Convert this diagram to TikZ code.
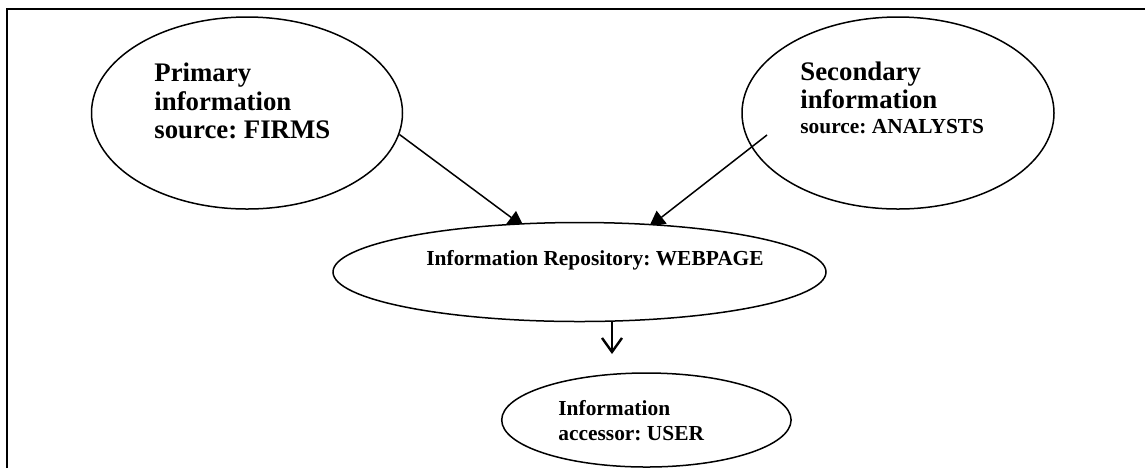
\documentclass[tikz,border=0pt]{standalone}
\usepackage{fontspec}
\setmainfont{Liberation Serif}
\usetikzlibrary{arrows.meta,backgrounds,shapes.geometric}
\frenchspacing
\begin{document}
\begin{tikzpicture}[x=0.5pt, y=-0.5pt, ovalStyle/.style={ellipse, draw, line width=0.75pt, inner sep=0pt}, bigText/.style={anchor=base west, inner sep=0pt, font=\fontsize{13.4}{14}\selectfont\bfseries}, smallText/.style={anchor=base west, inner sep=0pt, font=\fontsize{10.7}{12.5}\selectfont\bfseries}, linkStyle/.style={line width=0.75pt, -{Triangle[length=8pt, width=8pt]}}]
                    \useasboundingbox (0,0) rectangle (1145,468);
                    \draw[line width=1pt] (7,468) -- (7,9) -- (1145,9);
                    % ovals
                    \node[ovalStyle, minimum width=155.5pt, minimum height=96pt] (prim) at (247, 113) {};
                    \node[ovalStyle, minimum width=156pt, minimum height=96pt] (sec) at (898, 113) {};
                    \node[ovalStyle, fill=white, minimum width=246.5pt, minimum height=49.5pt] (repo) at (579.5, 272) {};
                    \node[ovalStyle, minimum width=144.7pt, minimum height=47pt] (user) at (646.4, 420) {};
                    % texts
                    \node[bigText] (primA) at (154,  81) {Primary};
                    \node[bigText] (primB) at (154, 110) {information};
                    \node[bigText] (primC) at (154, 138) {source: FIRMS};
                    \node[bigText] (secA) at (800,  80) {Secondary};
                    \node[bigText] (secB) at (800, 108) {information};
                    \node[smallText] (secC) at (800, 133) {source: ANALYSTS};
                    \node[smallText] (repoText) at (426, 265) {Information Repository: WEBPAGE};
                    \node[smallText] (userA) at (558, 415) {Information};
                    \node[smallText] (userB) at (558, 440) {accessor: USER};
                    % links
                    \coordinate (secStart) at (767, 135);
                    \coordinate (tipL) at (524, 227);
                    \coordinate (tipR) at (649, 227);
                    \coordinate (userIn) at (612, 354);
                    \begin{scope}[on background layer]
                    \draw[linkStyle] (prim.-8) -- (tipL);
                    \draw[linkStyle] (secStart) -- (tipR);
                    \end{scope}
                    \draw[line width=1.2pt, -{Straight Barb[length=7pt, width=10pt]}] (repo.south -| userIn) -- (userIn);
                \end{tikzpicture}
\end{document}
